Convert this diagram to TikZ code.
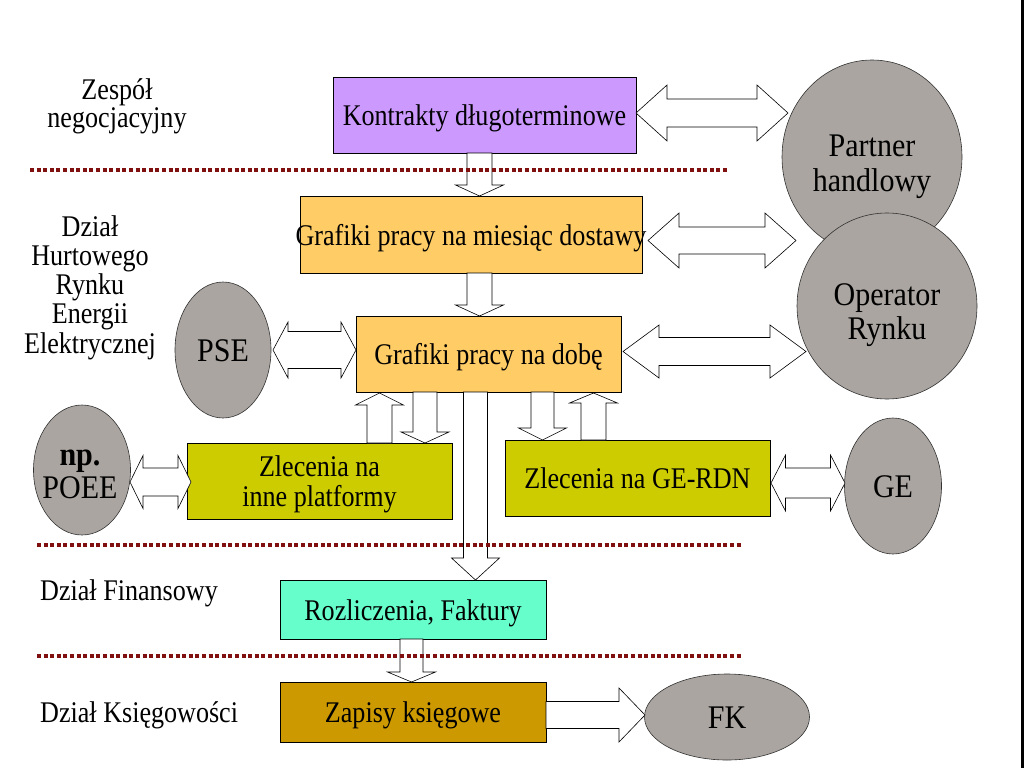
\documentclass[tikz,border=0pt]{standalone}
\usepackage{fontspec}
\setmainfont{Liberation Serif}
\usepackage{graphicx}
\usetikzlibrary{shapes.geometric}
\definecolor{lav}{RGB}{204,153,255}
\definecolor{orng}{RGB}{255,204,102}
\definecolor{olive}{RGB}{204,204,0}
\definecolor{aqua}{RGB}{102,255,204}
\definecolor{gold}{RGB}{204,153,0}
\definecolor{ellgray}{RGB}{170,165,160}
\definecolor{maroonline}{RGB}{128,16,16}
\newcommand\bt[2][28]{\scalebox{0.87}[1]{\fontsize{30}{#1}\selectfont\begin{tabular}{@{}c@{}}#2\end{tabular}}}
\newcommand\et[2][35]{\scalebox{0.91}[1]{\fontsize{33}{#1}\selectfont\begin{tabular}{@{}c@{}}#2\end{tabular}}}
% horizontal double block arrow: x1,x2,yc,shaft half,head half,head length
\newcommand\hdbl[6]{\draw[barrow] (#1,#3) -- ({#1+#6},{#3-#5}) -- ({#1+#6},{#3-#4}) -- ({#2-#6},{#3-#4}) -- ({#2-#6},{#3-#5}) -- (#2,#3) -- ({#2-#6},{#3+#5}) -- ({#2-#6},{#3+#4}) -- ({#1+#6},{#3+#4}) -- ({#1+#6},{#3+#5}) -- cycle;}
% horizontal single block arrow
\newcommand\hsgl[6]{\draw[barrow] (#1,{#3-#4}) -- ({#2-#6},{#3-#4}) -- ({#2-#6},{#3-#5}) -- (#2,#3) -- ({#2-#6},{#3+#5}) -- ({#2-#6},{#3+#4}) -- (#1,{#3+#4}) -- cycle;}
% vertical single block arrow: xc,y1,y2(tip),shaft half,head half,head length (signed)
\newcommand\vsgl[6]{\draw[barrow] ({#1-#4},#2) -- ({#1-#4},{#3-(#6)}) -- ({#1-#5},{#3-(#6)}) -- (#1,#3) -- ({#1+#5},{#3-(#6)}) -- ({#1+#4},{#3-(#6)}) -- ({#1+#4},#2) -- cycle;}
\tikzset{
  box/.style={draw=black, line width=0.8pt, rectangle, inner sep=0pt},
  ell/.style={draw=black!80, line width=0.6pt, ellipse, fill=ellgray, inner sep=0pt},
  barrow/.style={draw=black, fill=white, line width=0.6pt, line join=miter},
  sep/.style={draw=maroonline, line width=3.5pt, dash pattern=on 4pt off 2.6pt},
  lbl/.style={inner sep=0pt, text=black, yshift=-4.5pt}
}
\begin{document}
\begin{tikzpicture}[x=1pt,y=-1pt]
\useasboundingbox (0,0) rectangle (1024,768);
\fill[white] (0,0) rectangle (1024,768);
\fill[black] (1021,0) rectangle (1024,768);

% ellipses
\node[ell, minimum width=180pt, minimum height=194pt] (partner) at (872,157) {};
\node[ell, minimum width=180pt, minimum height=186pt] (operator) at (887,306) {};
\node[ell, minimum width=96pt, minimum height=136pt] (pse) at (223,350) {};
\node[ell, minimum width=97pt, minimum height=130pt] (poee) at (82,470) {};
\node[ell, minimum width=97pt, minimum height=136pt] (ge) at (893,486) {};
\node[ell, minimum width=165pt, minimum height=86pt] (fk) at (727,717) {};

% boxes
\node[box, fill=lav, minimum width=303pt, minimum height=76pt] (k) at (484.5,115) {};
\node[box, fill=orng, minimum width=342pt, minimum height=77pt] (gm) at (471,234.5) {};
\node[box, fill=orng, minimum width=265pt, minimum height=76pt] (gd) at (488.5,354) {};
\node[box, fill=olive, minimum width=265pt, minimum height=76pt] (zi) at (319.5,481) {};
\node[box, fill=olive, minimum width=265pt, minimum height=76pt] (zg) at (637.5,478) {};
\node[box, fill=aqua, minimum width=266pt, minimum height=59pt] (rf) at (413,609.5) {};
\node[box, fill=gold, minimum width=266pt, minimum height=60pt] (zk) at (413,712) {};

% block arrows
\hdbl{636}{788}{113}{14}{28}{31}
\hdbl{648}{796}{240.5}{13.5}{27.5}{31}
\hdbl{273}{356}{350}{18.5}{28}{15}
\hdbl{623}{806}{351.5}{14}{26.5}{36}
\hdbl{130}{191}{482}{14}{26.5}{13}
\hdbl{771}{845}{483}{15}{28}{14.5}
\hsgl{546}{645}{715}{13.5}{27}{26}
\vsgl{479.5}{153}{196}{12.5}{24}{11}
\vsgl{479.5}{273}{316}{12.5}{24}{11}
\vsgl{379.5}{443}{393}{12.5}{24}{-12}
\vsgl{425}{392}{443}{12}{24}{11}
\vsgl{475.5}{392}{580}{12}{24}{22}
\vsgl{542.5}{392}{440}{11.5}{24}{12}
\vsgl{593.5}{440}{393}{12.5}{24}{-10}
\vsgl{411.5}{639}{682}{11.5}{24}{10}

% separators
\draw[sep] (30,170) -- (727,170);
\draw[sep] (37,545) -- (742,545);
\draw[sep] (37,656) -- (742,656);

% box texts
\node[lbl] (kt) at (k.center) {\bt{Kontrakty długoterminowe}};
\node[lbl] (gmt) at (gm.center) {\bt{Grafiki pracy na miesiąc dostawy}};
\node[lbl] (gdt) at (gd.center) {\bt{Grafiki pracy na dobę}};
\node[lbl] (zit) at (zi.center) {\bt{Zlecenia na\\inne platformy}};
\node[lbl] (zgt) at (zg.center) {\bt{Zlecenia na GE-RDN}};
\node[lbl] (rft) at (rf.center) {\bt{Rozliczenia, Faktury}};
\node[lbl] (zkt) at (zk.center) {\bt{Zapisy księgowe}};

% ellipse texts
\node[lbl] (partnert) at (872,162) {\et{Partner\\handlowy}};
\node[lbl] (operatort) at (887,311) {\et[34]{Operator\\Rynku}};
\node[lbl] (pset) at (pse.center) {\et{PSE}};
\node[lbl] (poeet) at (80,471) {\et[33]{\textbf{np.}\\POEE}};
\node[lbl] (get) at (ge.center) {\et{GE}};
\node[lbl] (fkt) at (fk.center) {\et{FK}};

% department labels
\node[lbl] (zespol) at (117,102.5) {\bt[27]{Zespół\\negocjacyjny}};
\node[lbl] (dzhr) at (90,284) {\bt[29]{Dział\\Hurtowego\\Rynku\\Energii\\Elektrycznej}};
\node[lbl, anchor=west] (dzfin) at (40,590) {\bt{Dział Finansowy}};
\node[lbl, anchor=west] (dzks) at (40,712) {\bt{Dział Księgowości}};
\end{tikzpicture}
\end{document}
